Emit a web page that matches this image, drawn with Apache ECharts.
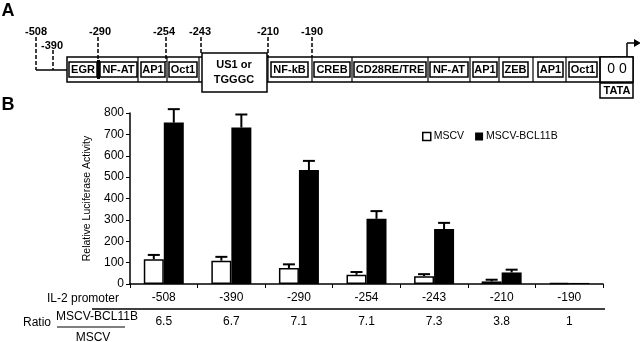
<!DOCTYPE html>
<html>
<head>
<meta charset="utf-8">
<script src="https://cdn.jsdelivr.net/npm/echarts@6/dist/echarts.min.js"></script>
<style>html,body{margin:0;padding:0;background:#fff}#c{width:640px;height:342px}</style>
</head>
<body>
<div id="c"></div>
<script>
// ---- data ----
var promoters = ['-508', '-390', '-290', '-254', '-243', '-210', '-190'];
var mscv = [116, 109, 75, 43, 36, 12, 5];
var mscvErrTop = [136, 127, 92, 56, 46, 20, null];
var bcl11b = [755, 732, 533, 305, 257, 54, 5];
var bcl11bErrTop = [818, 793, 576, 341, 286, 67, null];
var ratios = ['6.5', '6.7', '7.1', '7.1', '7.3', '3.8', '1'];
var yTicks = [0, 100, 200, 300, 400, 500, 600, 700, 800];

// ---- diagram A (schematic) ----
var siteLabels = [
  ['-508', 36, 32], ['-390', 52, 46], ['-290', 100, 32], ['-254', 164, 32],
  ['-243', 200, 32], ['-210', 268, 32], ['-190', 312, 32]
];
var dashLines = [[36, 37, 70], [53, 50, 70], [98, 37, 62], [166, 37, 62], [201, 37, 54], [268, 37, 57], [312, 37, 57]];
var segBounds = [138, 167, 199, 268, 312, 352, 428, 470, 499, 533, 566, 600];
var innerBoxes = [
  ['EGR', 69, 97], ['NF-AT', 100, 137], ['AP1', 141, 165], ['Oct1', 169, 197],
  ['NF-kB', 271, 308], ['CREB', 314, 350], ['CD28RE/TRE', 354, 426], ['NF-AT', 430, 468],
  ['AP1', 473, 497], ['ZEB', 503, 528], ['AP1', 538, 563], ['Oct1', 569, 597]
];

var FONT = '"Liberation Sans", Arial, Helvetica, sans-serif';
var BAR_W = 20;

var g = [];
function txt(t, x, y, size, bold, align) {
  g.push({type: 'text', x: x, y: y, z: 10, style: {text: t, align: align || 'center', verticalAlign: 'middle',
    fontSize: size, fontWeight: bold ? 'bold' : 'normal', fontFamily: FONT, fill: '#000'}});
}
function ln(x1, y1, x2, y2, w, dash) {
  g.push({type: 'line', z: 5, shape: {x1: x1, y1: y1, x2: x2, y2: y2}, style: {stroke: '#000', lineWidth: w, lineDash: dash || null}});
}
function rc(x, y, w, h, lw, fill) {
  g.push({type: 'rect', z: 4, shape: {x: x, y: y, width: w, height: h}, style: {fill: fill || '#fff', stroke: '#000', lineWidth: lw}});
}

txt('A', 8, 11, 18, true);
txt('B', 8, 105, 18, true);
siteLabels.forEach(function (s) { txt(s[0], s[1], s[2], 11, true); });
dashLines.forEach(function (d) { ln(d[0], d[1], d[0], d[2], 1.5, [4, 2]); });
ln(36, 70, 67, 70, 1.5);
rc(67, 57, 566, 25, 1.5);
segBounds.forEach(function (x) { ln(x, 57, x, 82, 1.2); });
innerBoxes.forEach(function (b) {
  rc(b[1], 62, b[2] - b[1], 15, 1.5);
  txt(b[0], (b[1] + b[2]) / 2, 70, 11, true);
});
g.push({type: 'rect', z: 6, shape: {x: 97, y: 60, width: 3, height: 19}, style: {fill: '#000'}});
rc(202, 53, 65, 39, 1.5);
txt('US1 or', 234, 65, 11, true);
txt('TGGGC', 234, 80, 11, true);
rc(600, 57, 33, 25, 1.5);
txt('0 0', 617, 69, 14, false);
rc(600, 83, 33, 15, 1.5);
txt('TATA', 617, 91, 11, true);
ln(627, 57, 627, 43, 1.5);
ln(627, 43, 635, 43, 1.5);
g.push({type: 'polygon', z: 6, shape: {points: [[634, 39], [641, 43], [634, 47]]}, style: {fill: '#000'}});

// ---- panel B extra text ----
txt('IL-2 promoter', 83, 299, 12, false);
ln(92, 309, 605, 309, 1.5);
txt('Ratio', 37, 323, 12, false);
txt('MSCV-BCL11B', 97, 317, 12, false);
ln(57, 327, 125, 327, 1.2);
txt('MSCV', 93, 338, 12, false);

function errRender(sign) {
  return function (params, api) {
    var e = api.value(2);
    if (e == null || isNaN(e)) return null;
    var p1 = api.coord([api.value(0), api.value(1)]);
    var p2 = api.coord([api.value(0), e]);
    var x = p1[0] + sign * BAR_W / 2;
    var half = 6;
    return {type: 'group', children: [
      {type: 'line', shape: {x1: x, y1: p1[1], x2: x, y2: p2[1]}, style: {stroke: '#000', lineWidth: 2}},
      {type: 'line', shape: {x1: x - half, y1: p2[1], x2: x + half, y2: p2[1]}, style: {stroke: '#000', lineWidth: 2}}
    ]};
  };
}
function errData(vals, tops) {
  return vals.map(function (v, i) { return [i, v, tops[i]]; });
}

var chart = echarts.init(document.getElementById('c'), null, {renderer: 'canvas'});
chart.setOption({
  animation: false,
  backgroundColor: '#fff',
  textStyle: {fontFamily: FONT},
  grid: {left: 130, right: 37, top: 113, bottom: 58, containLabel: false},
  legend: {
    left: 417, top: 126, itemWidth: 8, itemHeight: 8, itemGap: 11, icon: 'rect',
    textStyle: {fontSize: 10.5, color: '#000', fontFamily: FONT, padding: [0, 0, 0, -2]},
    data: [
      {name: 'MSCV', itemStyle: {color: '#fff', borderColor: '#000', borderWidth: 1.5}},
      {name: 'MSCV-BCL11B', itemStyle: {color: '#000', borderColor: '#000', borderWidth: 0}}
    ]
  },
  xAxis: [
    {
      type: 'category', data: promoters, position: 'bottom',
      axisLine: {show: true, lineStyle: {color: '#000', width: 1.5}},
      axisTick: {show: true, length: 4, lineStyle: {color: '#000', width: 1}},
      axisLabel: {color: '#000', fontSize: 12, margin: 8, fontFamily: FONT}
    },
    {
      type: 'category', data: ratios, position: 'bottom', offset: 0,
      axisLine: {show: false}, axisTick: {show: false},
      axisLabel: {color: '#000', fontSize: 12, margin: 32, fontFamily: FONT}
    }
  ],
  yAxis: {
    type: 'value', min: yTicks[0], max: yTicks[yTicks.length - 1], interval: 100,
    name: 'Relative Luciferase Activity', nameLocation: 'middle', nameGap: 31,
    nameTextStyle: {fontSize: 10.5, color: '#000', fontFamily: FONT},
    axisLine: {show: true, lineStyle: {color: '#000', width: 1.5}},
    axisTick: {show: true, length: 4, lineStyle: {color: '#000', width: 1}},
    splitLine: {show: false},
    axisLabel: {color: '#000', fontSize: 12, margin: 6, fontFamily: FONT}
  },
  series: [
    {name: 'MSCV', type: 'bar', data: mscv, barWidth: BAR_W, barGap: '0%',
      itemStyle: {color: '#fff', borderColor: '#000', borderWidth: 1.5}},
    {name: 'MSCV-BCL11B', type: 'bar', data: bcl11b, barWidth: BAR_W, barGap: '0%',
      itemStyle: {color: '#000'}},
    {name: 'errMSCV', type: 'custom', renderItem: errRender(-1), data: errData(mscv, mscvErrTop),
      encode: {x: 0, y: [1, 2]}, z: 5},
    {name: 'errBCL', type: 'custom', renderItem: errRender(1), data: errData(bcl11b, bcl11bErrTop),
      encode: {x: 0, y: [1, 2]}, z: 5}
  ],
  graphic: {elements: g}
});
</script>
</body>
</html>
